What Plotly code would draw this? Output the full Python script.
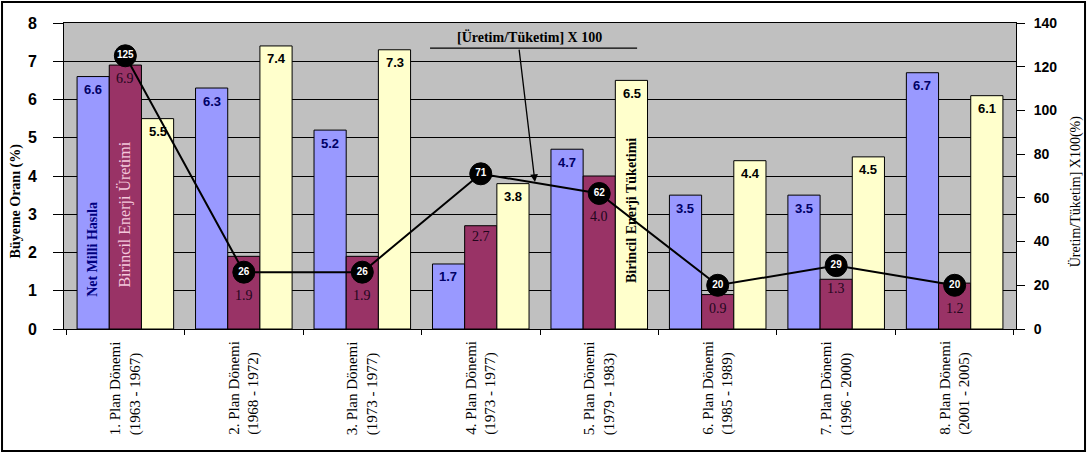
import plotly.graph_objects as go

# Plan periods (two-line tick labels)
periods = [
    "1. Plan Dönemi<br>(1963 - 1967)",
    "2. Plan Dönemi<br>(1968 - 1972)",
    "3. Plan Dönemi<br>(1973 - 1977)",
    "4. Plan Dönemi<br>(1973 - 1977)",
    "5. Plan Dönemi<br>(1979 - 1983)",
    "6. Plan Dönemi<br>(1985 - 1989)",
    "7. Plan Dönemi<br>(1996 - 2000)",
    "8. Plan Dönemi<br>(2001 - 2005)",
]

# Growth rates (%)
gnp_growth = [6.6, 6.3, 5.2, 1.7, 4.7, 3.5, 3.5, 6.7]        # Net Milli Hasıla
production_growth = [6.9, 1.9, 1.9, 2.7, 4.0, 0.9, 1.3, 1.2]  # Birincil Enerji Üretimi
consumption_growth = [5.5, 7.4, 7.3, 3.8, 6.5, 4.4, 4.5, 6.1] # Birincil Enerji Tüketimi

# [Üretim/Tüketim] x 100
prod_cons_ratio = [125, 26, 26, 71, 62, 20, 29, 20]

LEFT_MAX = 8
RIGHT_MAX = 140

BLUE = "#9999ff"
MAROON = "#993366"
YELLOW = "#ffffcc"
SERIF = "Liberation Serif"
SANS = "Liberation Sans"

fig = go.Figure()

bar_line = dict(color="black", width=1)
fig.add_trace(go.Bar(x=periods, y=gnp_growth, name="Net Milli Hasıla",
                     marker=dict(color=BLUE, line=bar_line)))
fig.add_trace(go.Bar(x=periods, y=production_growth, name="Birincil Enerji Üretimi",
                     marker=dict(color=MAROON, line=bar_line)))
fig.add_trace(go.Bar(x=periods, y=consumption_growth, name="Birincil Enerji Tüketimi",
                     marker=dict(color=YELLOW, line=bar_line)))

fig.add_trace(go.Scatter(
    x=periods, y=prod_cons_ratio, yaxis="y2", name="[Üretim/Tüketim] X 100",
    mode="lines+markers+text",
    line=dict(color="black", width=2),
    marker=dict(color="black", size=22, line=dict(color="black", width=1)),
    text=[str(v) for v in prod_cons_ratio],
    textposition="middle center",
    textfont=dict(family=SANS, size=10, color="white", weight="bold"),
))

annotations = []
BAR_PX = 32.3  # width of one bar in pixels

# Value labels just inside the top of each bar
for cat, v in zip(periods, gnp_growth):
    annotations.append(dict(x=cat, y=v, xref="x", yref="y", text=f"{v:.1f}",
                            xshift=-BAR_PX, yshift=-13, showarrow=False,
                            font=dict(family=SANS, size=13, color="#000066", weight="bold")))
for cat, v in zip(periods, consumption_growth):
    annotations.append(dict(x=cat, y=v, xref="x", yref="y", text=f"{v:.1f}",
                            xshift=BAR_PX, yshift=-13, showarrow=False,
                            font=dict(family=SANS, size=13, color="black", weight="bold")))
# Production labels drop below the ratio marker when the two collide
for cat, v, r in zip(periods, production_growth, prod_cons_ratio):
    r_left = r / RIGHT_MAX * LEFT_MAX
    if -0.7 < r_left - v < 0.6:
        y, ys = r_left, -23
    else:
        y, ys = v, -11
    annotations.append(dict(x=cat, y=y, xref="x", yref="y", text=f"{v:.1f}",
                            yshift=ys, showarrow=False,
                            font=dict(family=SERIF, size=14, color="#22061c")))

# Series names written inside bars
annotations += [
    dict(x=periods[0], y=2.07, xref="x", yref="y", text="Net Milli Hasıla",
         textangle=-90, xshift=-BAR_PX, showarrow=False,
         font=dict(family=SERIF, size=14, color="#000080", weight="bold")),
    dict(x=periods[0], y=3.0, xref="x", yref="y", text="Birincil Enerji Üretimi",
         textangle=-90, showarrow=False,
         font=dict(family=SERIF, size=16, color="#f4c8dc")),
    dict(x=periods[4], y=3.1, xref="x", yref="y", text="Birincil Enerji Tüketimi",
         textangle=-90, xshift=BAR_PX, showarrow=False,
         font=dict(family=SERIF, size=14, color="black", weight="bold")),
]

# Rotated category labels below the axis
for cat in periods:
    annotations.append(dict(x=cat, y=0, xref="x", yref="paper", text=cat,
                            textangle=-90, align="left", yanchor="top",
                            yshift=-10, showarrow=False,
                            font=dict(family=SERIF, size=15, color="black")))

# Axis titles
annotations += [
    dict(x=-0.0494, y=0.42, xref="paper", yref="paper", text="Büyeme Oranı (%)",
         xanchor="center", yanchor="middle",
         textangle=-90, showarrow=False,
         font=dict(family=SERIF, size=14, color="black", weight="bold")),
    dict(x=1.062, y=0.45, xref="paper", yref="paper", text="Üretim/Tüketim] X100(%)",
         xanchor="center", yanchor="middle",
         textangle=-90, showarrow=False,
         font=dict(family=SERIF, size=14, color="black")),
]

# Callout naming the ratio line
annotations += [
    dict(x=0.489, y=0.955, xref="paper", yref="paper", text="[Üretim/Tüketim] X 100",
         xanchor="center", yanchor="middle",
         showarrow=False, font=dict(family=SERIF, size=14, color="black", weight="bold")),
    dict(x=0.4947, y=0.48, xref="paper", yref="paper", text="",
         ax=-16, ay=-134, axref="pixel", ayref="pixel",
         showarrow=True, arrowhead=2, arrowsize=1.2, arrowwidth=1.3, arrowcolor="black"),
]

shapes = [
    dict(type="line", xref="paper", yref="paper", x0=0.3845, x1=0.602, y0=0.918, y1=0.918,
         line=dict(color="black", width=1.3)),
    dict(type="rect", xref="paper", yref="paper", x0=-0.0651, x1=1.0725, y0=-0.3987, y1=1.0686,
         line=dict(color="black", width=2)),
]

fig.update_layout(
    width=1088, height=455,
    margin=dict(l=64, r=72, t=23, b=126),
    paper_bgcolor="white", plot_bgcolor="#c0c0c0",
    barmode="group", bargap=0.185, bargroupgap=0,
    showlegend=False,
    font=dict(family=SANS, color="black"),
    annotations=annotations, shapes=shapes,
    xaxis=dict(type="category", showticklabels=False, ticks="outside", ticklen=5,
               tickson="boundaries", tickcolor="black", showline=True, linecolor="black",
               linewidth=1, mirror=True, showgrid=False),
    yaxis=dict(range=[0, LEFT_MAX], dtick=1, ticks="outside", ticklen=10, tickcolor="black",
               showgrid=True, gridcolor="black", gridwidth=1, showline=True, linecolor="black",
               zeroline=False, ticklabelstandoff=13,
               tickfont=dict(family=SANS, size=16, color="black", weight="bold")),
    yaxis2=dict(range=[0, RIGHT_MAX], dtick=20, overlaying="y", side="right", ticks="outside",
                ticklen=8, tickcolor="black", showgrid=False, showline=True, linecolor="black",
                zeroline=False, ticklabelstandoff=6,
                tickfont=dict(family=SANS, size=14, color="black", weight="bold")),
)

fig.write_html("out.html")
